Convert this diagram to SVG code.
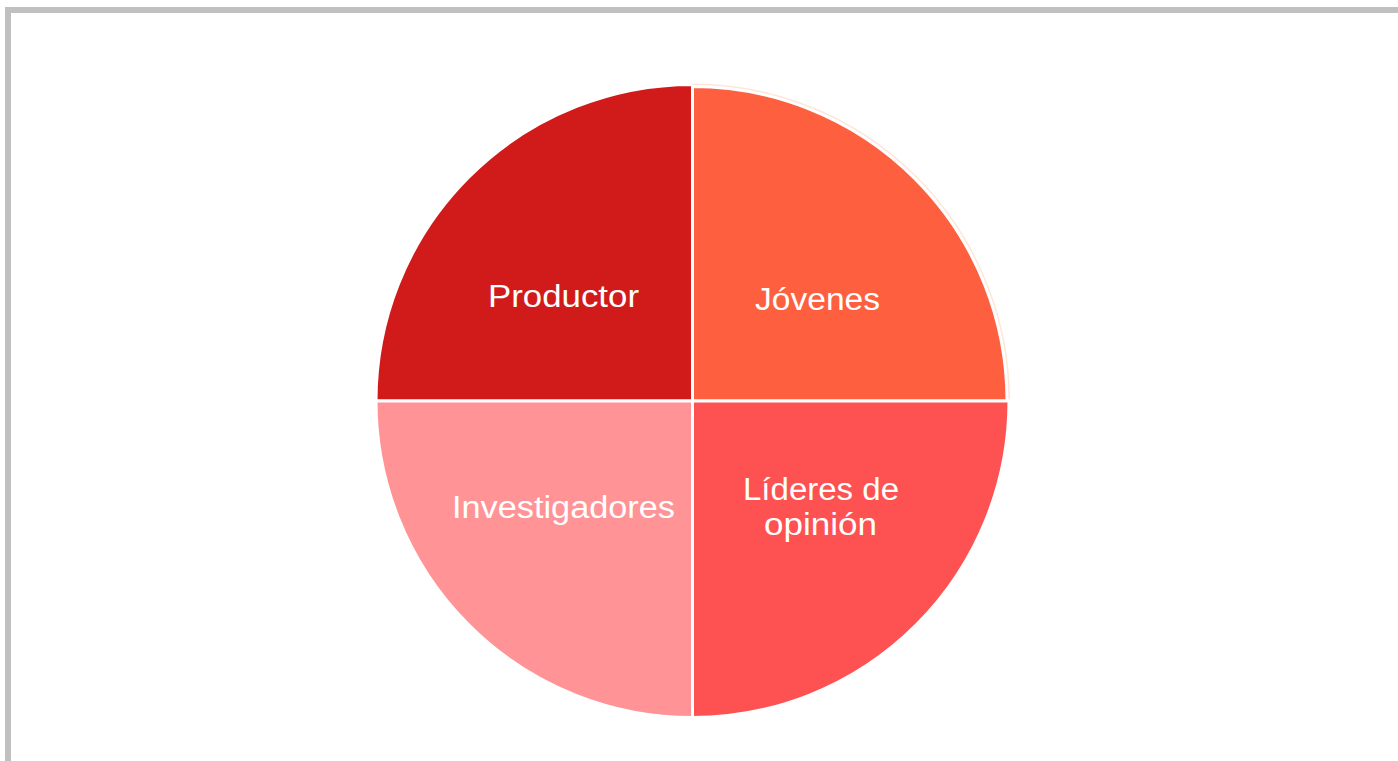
<svg xmlns="http://www.w3.org/2000/svg" width="1398" height="761" viewBox="0 0 1398 761">
<style>
.q{stroke:#ffffff;stroke-width:3}
.t{font-family:"Liberation Sans","DejaVu Sans",sans-serif;font-size:31px;fill:#ffffff;text-anchor:middle}
</style>
<rect width="1398" height="761" fill="#ffffff"/>
<path d="M8,761 L8,10 L1398,10" fill="none" stroke="#c0c0c0" stroke-width="6"/>
<g id="node-productor">
<path class="q" d="M692.5,401 L376,401 A316.5,316.5 0 0 1 692.5,84.5 Z" fill="#d11b1b"/>
<text class="t" x="563.5" y="307" textLength="151" lengthAdjust="spacingAndGlyphs">Productor</text>
</g>
<g id="node-jovenes">
<path d="M692.5,84.5 A316.5,316.5 0 0 1 1009,401" fill="none" stroke="#fde6da" stroke-width="2"/>
<path class="q" d="M692.5,401 L692.5,86.5 A314.5,314.5 0 0 1 1007,401 Z" fill="#fe5f3e"/>
<text class="t" x="817.5" y="310" textLength="125" lengthAdjust="spacingAndGlyphs">Jóvenes</text>
</g>
<g id="node-lideres">
<path class="q" d="M692.5,401 L1009,401 A316.5,316.5 0 0 1 692.5,717.5 Z" fill="#fe5151"/>
<text class="t" x="821" y="500" textLength="156" lengthAdjust="spacingAndGlyphs">Líderes de</text>
<text class="t" x="820.5" y="535" textLength="113" lengthAdjust="spacingAndGlyphs">opinión</text>
</g>
<g id="node-investigadores">
<path class="q" d="M692.5,401 L692.5,717.5 A316.5,316.5 0 0 1 376,401 Z" fill="#ff9396"/>
<text class="t" x="563.5" y="518" textLength="223" lengthAdjust="spacingAndGlyphs">Investigadores</text>
</g>
<g id="connectors"></g>
</svg>
